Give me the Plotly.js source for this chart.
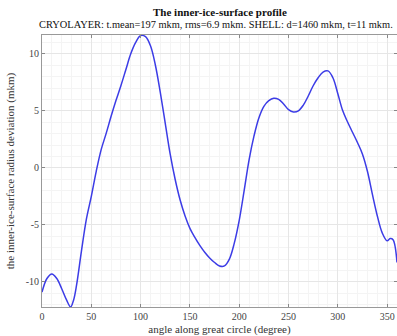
<!DOCTYPE html>
<html>
<head>
<meta charset="utf-8">
<script src="https://cdn.plot.ly/plotly-3.0.1.min.js"></script>
<style>
html,body{margin:0;padding:0;background:#fff;}
#wrap{position:relative;width:397px;height:336px;}
#chart{width:397px;height:336px;}
#banner{position:absolute;left:0;top:0;width:397px;height:9px;overflow:hidden;clip-path:inset(0 0 0 0);pointer-events:none;z-index:5;}
#bannerText{position:absolute;left:0;top:-36px;width:397px;text-align:center;white-space:nowrap;
  font-family:'Liberation Sans',Arial,sans-serif;font-weight:bold;font-size:40px;line-height:40px;color:#000;}
</style>
</head>
<body>
<div id="wrap">
<div id="chart"></div>
<div id="banner"><div id="bannerText"></div></div>
</div>
<script>
var angleDeg = [0,5,10,15,20,25,29,32,35,40,45,50,55,60,65,70,75,80,85,90,95,100,105,110,115,120,125,130,135,140,145,150,155,160,165,170,175,180,185,190,195,200,205,210,215,220,225,230,235,240,245,250,255,260,265,270,275,280,285,290,295,300,305,310,315,320,325,330,335,340,345,350,353,356,360];
var deviation = [-10.9,-9.7,-9.3,-9.7,-10.6,-11.6,-12.2,-11.6,-10.3,-7.3,-4.5,-2.5,-0.3,1.6,3.0,4.5,5.9,7.2,8.6,10.0,11.0,11.6,11.5,10.7,9.0,6.6,3.9,1.2,-1.0,-2.8,-4.2,-5.3,-6.1,-6.8,-7.4,-7.9,-8.3,-8.6,-8.6,-8.0,-6.6,-4.6,-2.0,0.7,2.8,4.4,5.4,5.9,6.1,6.0,5.6,5.1,4.9,5.0,5.5,6.3,7.2,7.9,8.4,8.5,7.9,6.5,5.0,4.0,3.1,2.2,1.2,-0.3,-2.3,-4.2,-5.7,-6.4,-6.2,-6.3,-8.3];
var xTicks = [0,50,100,150,200,250,300,350];
var yTicks = [-10,-5,0,5,10];
var bannerText = "HECTИKA RJSNOC";
var titleText = "The inner-ice-surface profile";
var subtitleText = "CRYOLAYER: t.mean=197 mkm, rms=6.9 mkm. SHELL: d=1460 mkm, t=11 mkm.";
var xTitle = "angle along great circle (degree)";
var yTitle = "the inner-ice-surface radius deviation (mkm)";

document.getElementById('bannerText').textContent = bannerText;

var trace = {
  x: angleDeg, y: deviation, type: 'scatter', mode: 'lines',
  line: {color: '#3c3ce6', width: 1.5, shape: 'spline', smoothing: 1.0},
  hoverinfo: 'none'
};
var serif = 'Liberation Serif, Times New Roman, serif';
var layout = {
  width: 397, height: 336,
  margin: {l: 42, r: 0, t: 35, b: 29, pad: 0},
  paper_bgcolor: '#fff', plot_bgcolor: '#fff',
  showlegend: false,
  xaxis: {
    range: [0, 360], tickvals: xTicks, ticktext: xTicks.map(String),
    ticks: 'inside', ticklen: 3, tickcolor: '#888', mirror: 'ticks',
    showline: true, linecolor: '#999', linewidth: 1,
    showgrid: true, gridcolor: '#e6e6e6', gridwidth: 1,
    minor: {dtick: 10, showgrid: true, gridcolor: '#f4f4f4', ticks: ''},
    zeroline: false,
    tickfont: {family: serif, size: 10, color: '#444'},
    title: {text: xTitle, font: {family: serif, size: 11, color: '#333'}, standoff: 4}
  },
  yaxis: {
    range: [-12.2, 11.65], tickvals: yTicks, ticktext: yTicks.map(String),
    ticks: 'inside', ticklen: 3, tickcolor: '#888', mirror: 'ticks',
    showline: true, linecolor: '#999', linewidth: 1,
    showgrid: true, gridcolor: '#e6e6e6', gridwidth: 1,
    minor: {dtick: 1, showgrid: true, gridcolor: '#f4f4f4', ticks: ''},
    zeroline: false,
    tickfont: {family: serif, size: 10, color: '#444'},
    title: {text: yTitle, font: {family: serif, size: 11, color: '#333'}, standoff: 8}
  },
  annotations: [
    {text: '<b>' + titleText + '</b>', xref: 'paper', yref: 'paper', x: 0.5, y: (307 - 12) / 272,
     xanchor: 'center', yanchor: 'middle', showarrow: false,
     font: {family: serif, size: 11, color: '#111'}},
    {text: subtitleText, xref: 'paper', yref: 'paper', x: 0.49, y: (307 - 25) / 272,
     xanchor: 'center', yanchor: 'middle', showarrow: false,
     font: {family: serif, size: 10.4, color: '#111'}}
  ]
};
Plotly.newPlot('chart', [trace], layout, {displayModeBar: false, staticPlot: true});
</script>
</body>
</html>
